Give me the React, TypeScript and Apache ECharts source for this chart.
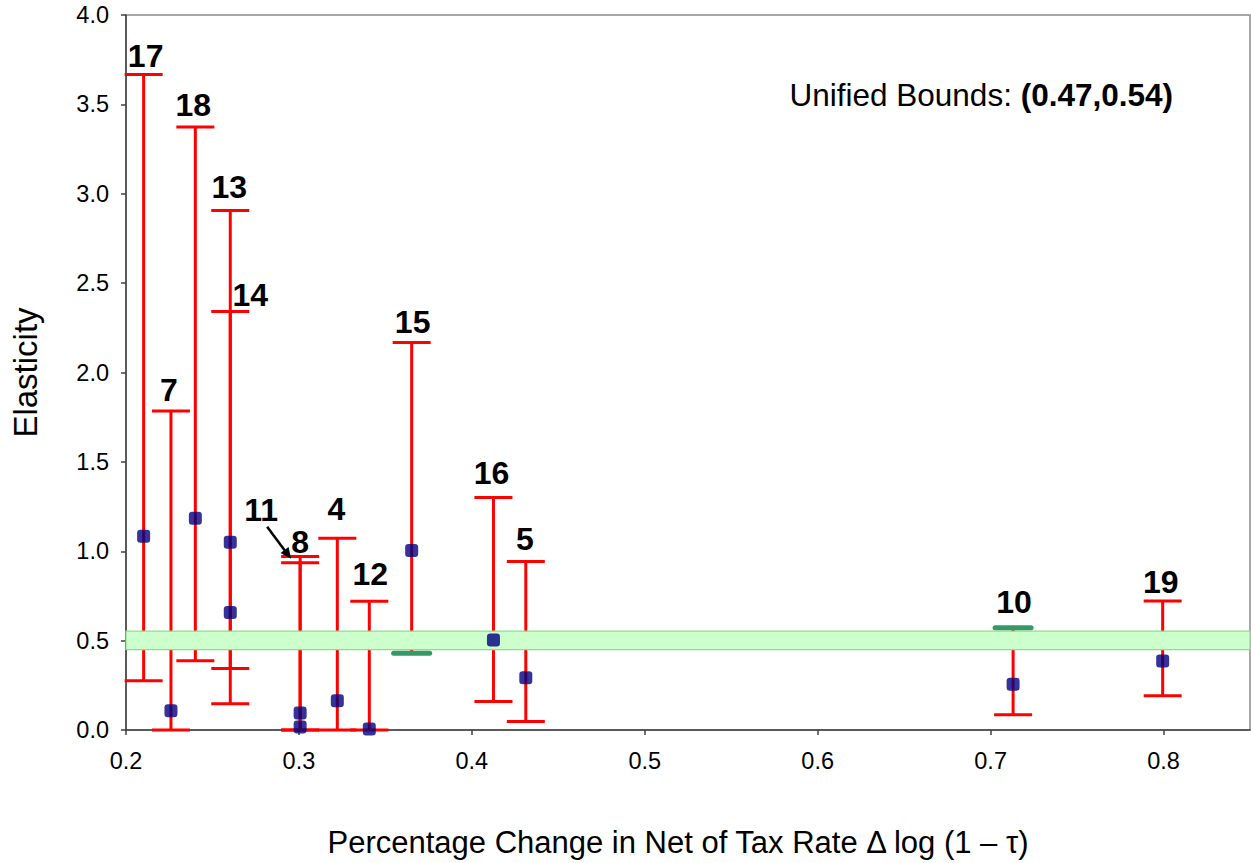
import React, { useEffect, useRef } from "react";
import * as echarts from "echarts";

// ---------- data ----------
const studyLabels = ["17", "7", "18", "13", "14", "11", "8", "4", "12", "15", "16", "5", "10", "19"];
const netOfTaxChange = [0.2102, 0.226, 0.2401, 0.2603, 0.2603, 0.3007, 0.3007, 0.3222, 0.3407, 0.3652, 0.4125, 0.4312, 0.713, 0.7995];
const pointEstimate = [1.084, 0.108, 1.184, 1.051, 0.657, 0.017, 0.095, 0.164, 0.006, 1.004, 0.503, 0.293, 0.256, 0.386];
const lowerBound = [0.275, 0.0, 0.388, 0.344, 0.147, 0.0, 0.0, 0.0, 0.0, 0.429, 0.16, 0.047, 0.086, 0.192];
const upperBound = [3.667, 1.784, 3.373, 2.906, 2.341, 0.935, 0.971, 1.073, 0.72, 2.168, 1.301, 0.943, 0.572, 0.722];
// bounds that bind the unified interval (drawn green)
const bindingX = [0.3652, 0.713];
const bindingY = [0.429, 0.572];
// unified band as drawn
const unifiedBand = [0.45, 0.553];
const xRange = [0.2, 0.85];
const yRange = [0, 4];
const unifiedText = "(0.47,0.54)";

// ---------- layout (pixel offsets of study labels relative to upper cap) ----------
const labelLayout: Record<string, [number, number]> = {
  "17": [2, -7],
  "7": [-2, -10],
  "18": [-2, -11],
  "13": [-1, -12],
  "14": [20, -5],
  "11": [-39, -41],
  "8": [0, -3],
  "4": [-1, -18],
  "12": [1, -16],
  "15": [1, -9],
  "16": [-2, -13],
  "5": [-1, -11],
  "10": [1, -14],
  "19": [-2, -7],
};

const FONT = "Arial, 'Liberation Sans', Helvetica, sans-serif";
const RED = "#FF0000";
const LABEL_SIZE = 32;

export default function App() {
  const ref = useRef<HTMLDivElement>(null);

  useEffect(() => {
    if (!ref.current) return;
    const chart = echarts.init(ref.current, undefined, { renderer: "svg" });

    const barData = netOfTaxChange.map((x, i) => [x, lowerBound[i], upperBound[i]]);
    const pointData = netOfTaxChange.map((x, i) => [x, pointEstimate[i]]);
    const bindData = bindingX.map((x, i) => [x, bindingY[i]]);
    const labelData = netOfTaxChange.map((x, i) => [x, upperBound[i], i]);

    const option: any = {
      animation: false,
      backgroundColor: "#ffffff",
      grid: {
        left: 126,
        right: 1,
        top: 15,
        bottom: 129,
        show: true,
        borderColor: "#8c8c8c",
        borderWidth: 1.5,
        backgroundColor: "transparent",
      },
      xAxis: {
        type: "value",
        min: xRange[0],
        max: xRange[1],
        interval: 0.1,
        name: "Percentage Change in Net of Tax Rate \u0394 log (1 \u2013 \u03C4)",
        nameLocation: "middle",
        nameGap: 97,
        nameTextStyle: { fontSize: 31, color: "#000", fontFamily: FONT, padding: [0, 20, 0, 0] },
        axisLine: { show: true, onZero: false, lineStyle: { color: "#404040", width: 1.5 } },
        axisTick: { show: true, length: 5, lineStyle: { color: "#404040", width: 1.5 } },
        axisLabel: {
          fontSize: 23.5,
          color: "#000",
          fontFamily: FONT,
          margin: 19,
          showMaxLabel: false,
          formatter: (v: number) => (Math.abs(v * 10 - Math.round(v * 10)) > 1e-6 ? "" : v.toFixed(1)),
        },
        splitLine: { show: false },
      },
      yAxis: {
        type: "value",
        min: yRange[0],
        max: yRange[1],
        interval: 0.5,
        name: "Elasticity",
        nameLocation: "middle",
        nameRotate: 90,
        nameGap: 84,
        nameTextStyle: { fontSize: 33, color: "#000", fontFamily: FONT },
        axisLine: { show: true, lineStyle: { color: "#404040", width: 1.5 } },
        axisTick: { show: true, length: 5, lineStyle: { color: "#404040", width: 1.5 } },
        axisLabel: {
          fontSize: 23.5,
          color: "#000",
          fontFamily: FONT,
          margin: 17,
          formatter: (v: number) => v.toFixed(1),
        },
        splitLine: { show: false },
      },
      graphic: [
        {
          type: "text",
          x: 1173,
          y: 95,
          z: 100,
          style: {
            text: "{a|Unified Bounds: }{b|" + unifiedText + "}",
            align: "right",
            verticalAlign: "middle",
            rich: {
              a: { fontSize: 31.5, fontFamily: FONT, fill: "#000", fontWeight: "normal" },
              b: { fontSize: 31.5, fontFamily: FONT, fill: "#000", fontWeight: "bold" },
            },
          },
        },
      ],
      series: [
        {
          type: "custom",
          name: "bounds",
          z: 2,
          clip: false,
          data: barData,
          renderItem: (params: any, api: any) => {
            const x = api.value(0);
            const lo = api.value(1);
            const hi = api.value(2);
            const pt = api.coord([x, hi]);
            const pb = api.coord([x, lo]);
            const hw = 19;
            const st = { stroke: RED, lineWidth: 3 };
            return {
              type: "group",
              children: [
                { type: "line", shape: { x1: pt[0], y1: pt[1], x2: pb[0], y2: pb[1] }, style: st },
                { type: "line", shape: { x1: pt[0] - hw, y1: pt[1], x2: pt[0] + hw, y2: pt[1] }, style: st },
                { type: "line", shape: { x1: pb[0] - hw, y1: pb[1], x2: pb[0] + hw, y2: pb[1] }, style: st },
              ],
            };
          },
        },
        {
          type: "custom",
          name: "unified",
          z: 3,
          clip: false,
          data: [[unifiedBand[0], unifiedBand[1]]],
          renderItem: (params: any, api: any) => {
            const cs = params.coordSys;
            const top = api.coord([xRange[0], api.value(1)])[1];
            const bot = api.coord([xRange[0], api.value(0)])[1];
            return {
              type: "rect",
              shape: { x: cs.x, y: top, width: cs.width, height: bot - top },
              style: { fill: "#CCFFCC", stroke: "#8EDB8E", lineWidth: 1.2 },
            };
          },
        },
        {
          type: "custom",
          name: "binding",
          z: 4,
          clip: false,
          data: bindData,
          renderItem: (params: any, api: any) => {
            const p = api.coord([api.value(0), api.value(1)]);
            const hw = 18;
            return {
              type: "line",
              shape: { x1: p[0] - hw, y1: p[1], x2: p[0] + hw, y2: p[1] },
              style: { stroke: "#339966", lineWidth: 5, lineCap: "round" },
            };
          },
        },
        {
          type: "scatter",
          name: "estimate",
          z: 5,
          clip: false,
          symbol: "roundRect",
          symbolSize: 13,
          itemStyle: { color: "#000080" },
          data: pointData,
        },
        {
          type: "custom",
          name: "labels",
          z: 6,
          clip: false,
          data: labelData,
          renderItem: (params: any, api: any) => {
            const i = api.value(2);
            const name = studyLabels[i];
            const p = api.coord([api.value(0), api.value(1)]);
            const [dx, dy] = labelLayout[name] || [0, -10];
            const children: any[] = [
              {
                type: "text",
                x: p[0] + dx,
                y: p[1] + dy - 0.358 * LABEL_SIZE,
                style: {
                  text: name,
                  fontSize: LABEL_SIZE,
                  fontWeight: "bold",
                  fontFamily: FONT,
                  fill: "#000",
                  align: "center",
                  verticalAlign: "middle",
                },
              },
            ];
            if (name === "11") {
              const sx = p[0] - 33, sy = p[1] - 36;
              const ex = p[0] - 9, ey = p[1] - 4;
              const len = Math.hypot(ex - sx, ey - sy);
              const ux = (ex - sx) / len, uy = (ey - sy) / len;
              const hl = 11, hwid = 5;
              const bx = ex - ux * hl, by = ey - uy * hl;
              children.push(
                { type: "line", shape: { x1: sx, y1: sy, x2: bx + ux * 2, y2: by + uy * 2 }, style: { stroke: "#000", lineWidth: 2.5 } },
                {
                  type: "polygon",
                  shape: { points: [[ex, ey], [bx - uy * hwid, by + ux * hwid], [bx + uy * hwid, by - ux * hwid]] },
                  style: { fill: "#000" },
                }
              );
            }
            return { type: "group", children };
          },
        },
      ],
    };

    chart.setOption(option);
    return () => chart.dispose();
  }, []);

  return (
    <div
      ref={ref}
      style={{ position: "absolute", left: 0, top: 0, width: 1251, height: 863, background: "#fff" }}
    />
  );
}
